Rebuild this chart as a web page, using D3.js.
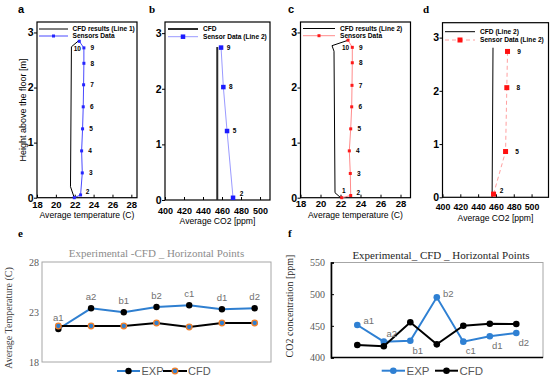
<!DOCTYPE html>
<html>
<head>
<meta charset="utf-8">
<script src="https://cdn.jsdelivr.net/npm/d3@7"></script>
<style>
  body { margin: 0; background: #fff; }
  svg { display: block; font-family: "Liberation Sans", Arial, sans-serif; }
</style>
</head>
<body>
<svg id="chart" width="550" height="381"></svg>
<script>
// ---- a: temperature profile, line 1
const sensorLabelsA = ["", "2", "3", "4", "5", "6", "7", "8", "9", "10"];
const sensorTempA = [21.95, 22.62, 22.8, 22.73, 22.83, 22.9, 22.94, 22.97, 22.97, 22.48];
const sensorHeightA = [0, 0.05, 0.45, 0.85, 1.25, 1.65, 2.05, 2.44, 2.72, 2.84];
const cfdTempA = [21.95, 21.55, 21.65, 22.48];
const cfdHeightA = [0, 0.2, 2.74, 2.86];

// ---- b: CO2 profile, line 2
const sensorLabelsB = ["2", "5", "8", "9"];
const sensorCo2B = [471.6, 465.3, 461.4, 459];
const sensorHeightB = [0.04, 1.24, 2.03, 2.74];
const cfdCo2B = [455, 455];
const cfdHeightB = [0, 2.75];

// ---- c: temperature profile, line 2
const sensorLabelsC = ["1", "2", "3", "4", "5", "6", "7", "8", "9", "10"];
const sensorTempC = [22.12, 23.02, 22.98, 22.88, 23.02, 23.12, 23.15, 23.18, 23.18, 22.75];
const sensorHeightC = [0, 0.04, 0.44, 0.85, 1.25, 1.65, 2.04, 2.45, 2.73, 2.86];
const cfdTempC = [22.02, 21.45, 21.35, 21.15, 22.78];
const cfdHeightC = [0, 0.09, 2.66, 2.76, 2.86];

// ---- d: CO2 profile, line 2
const sensorLabelsD = ["2", "5", "8", "9"];
const sensorCo2D = [457.3, 470.8, 472.2, 473];
const sensorHeightD = [0.06, 0.86, 2.06, 2.74];
const cfdCo2D = [455.7, 456.7];
const cfdHeightD = [0, 2.81];

// ---- e / f: horizontal points
const pointNames = ["a1", "a2", "b1", "b2", "c1", "d1", "d2"];
const expTempE = [21.3, 23.37, 22.97, 23.5, 23.67, 23.27, 23.37];
const cfdTempE = [21.6, 21.6, 21.6, 21.9, 21.5, 21.9, 21.9];
const expCo2F = [451.3, 425, 426.5, 495, 425, 433.5, 438.7];
const cfdCo2F = [419.7, 417.7, 455.6, 420.8, 450.2, 453.4, 452.9];

const tempTicks = [18, 20, 22, 24, 26, 28];
const co2Ticks = [400, 420, 440, 460, 480, 500];
const heightTicks = [0, 1, 2, 3];

const svg = d3.select("#chart");
const serif = "'Liberation Serif', 'Times New Roman', serif";
const sans = "'Liberation Sans', Arial, sans-serif";

function profilePanel(o) {
  const g = svg.append("g");
  const x = d3.scaleLinear().domain(o.xDomain).range([o.left, o.right]);
  const y = d3.scaleLinear().domain(o.yDomain).range([o.bottom, o.top]);

  g.append("g")
    .attr("transform", `translate(0,${o.bottom})`)
    .call(d3.axisBottom(x).tickValues(o.xTicks).tickFormat(d3.format("d")).tickSize(-3).tickPadding(o.xPad))
    .call(a => a.select(".domain").remove())
    .call(a => a.selectAll("text").attr("font-size", o.xFont).attr("font-weight", "bold").attr("font-family", sans));

  g.append("g")
    .attr("transform", `translate(${o.left},0)`)
    .call(d3.axisLeft(y).tickValues(heightTicks).tickFormat(d3.format("d")).tickSize(3).tickPadding(0.5))
    .call(a => a.select(".domain").remove())
    .call(a => a.selectAll("text").attr("font-size", 10.5).attr("font-weight", "bold").attr("font-family", sans));

  g.append("rect")
    .attr("x", o.left).attr("y", o.top)
    .attr("width", o.right - o.left).attr("height", o.bottom - o.top)
    .attr("fill", "none").attr("stroke", "#000").attr("stroke-width", 1.2);

  const idxCfd = d3.range(o.cfdX.length);
  const idxSen = d3.range(o.senX.length);

  g.append("path")
    .attr("d", d3.line().x(i => x(o.cfdX[i])).y(i => y(o.cfdY[i]))(idxCfd))
    .attr("fill", "none").attr("stroke", o.cfdColor).attr("stroke-width", o.cfdWidth);

  g.append("path")
    .attr("d", d3.line().x(i => x(o.senX[i])).y(i => y(o.senY[i]))(idxSen))
    .attr("fill", "none").attr("stroke", o.senLine).attr("stroke-width", 1)
    .attr("stroke-dasharray", o.dash || null);

  g.selectAll(".mk")
    .data(idxSen)
    .join("rect")
    .attr("x", i => x(o.senX[i]) - o.mk / 2)
    .attr("y", i => y(o.senY[i]) - o.mk / 2)
    .attr("width", o.mk).attr("height", o.mk)
    .attr("fill", o.senMarker);

  g.selectAll(".lbl")
    .data(idxSen.filter(i => o.labels[i] !== ""))
    .join("text")
    .attr("x", i => x(o.senX[i]) + (o.labelShift[o.labels[i]] || [o.labelDx, 0])[0])
    .attr("y", i => y(o.senY[i]) + (o.labelShift[o.labels[i]] || [o.labelDx, 0])[1])
    .attr("dy", "0.35em")
    .attr("text-anchor", "middle")
    .attr("font-size", 6.5).attr("font-weight", "bold")
    .text(i => o.labels[i]);

  // legend
  const L = o.legend;
  g.append("line").attr("x1", L.x0).attr("x2", L.x1).attr("y1", L.y1).attr("y2", L.y1)
    .attr("stroke", o.cfdColor).attr("stroke-width", o.cfdWidth);
  g.append("line").attr("x1", L.x0).attr("x2", L.x1).attr("y1", L.y2).attr("y2", L.y2)
    .attr("stroke", o.senLine).attr("stroke-width", 1).attr("stroke-dasharray", o.dash || null);
  g.append("rect").attr("x", (L.x0 + L.x1) / 2 - o.mk / 2).attr("y", L.y2 - o.mk / 2)
    .attr("width", o.mk).attr("height", o.mk).attr("fill", o.senMarker);
  [[L.cfdText, L.y1], [L.senText, L.y2]].forEach(([t, yy]) => {
    g.append("text").attr("x", L.tx).attr("y", yy).attr("dy", "0.35em")
      .attr("font-size", 6.6).attr("font-weight", "bold").text(t);
  });

  g.append("text")
    .attr("x", (o.left + o.right) / 2).attr("y", o.xTitleY)
    .attr("text-anchor", "middle").attr("font-size", 8.6)
    .text(o.xTitle);

  g.append("text")
    .attr("x", o.letterX).attr("y", 13)
    .attr("font-size", 11).attr("font-weight", "bold")
    .attr("font-family", o.letterSerif ? serif : null)
    .text(o.letter);
}

profilePanel({
  left: 37, right: 137, top: 22, bottom: 197.7,
  xDomain: [18, 28.6], yDomain: [0, 3.19], xTicks: tempTicks, xPad: 3.5, xFont: 9.5,
  senX: sensorTempA, senY: sensorHeightA, labels: sensorLabelsA,
  cfdX: cfdTempA, cfdY: cfdHeightA,
  cfdColor: "#000", cfdWidth: 1, senLine: "#4a4aff", senMarker: "#2525ff", mk: 3,
  labelDx: 8.5, labelShift: { "2": [7, -3], "10": [-2, 7] },
  legend: { x0: 39, x1: 68, tx: 72.5, y1: 29, y2: 36, cfdText: "CFD results (Line 1)", senText: "Sensors Data" },
  xTitle: "Average temperature (C)", xTitleY: 218,
  letter: "a", letterX: 18
});

profilePanel({
  left: 165, right: 270, top: 22, bottom: 200,
  xDomain: [400, 510.5], yDomain: [0, 3.2], xTicks: co2Ticks, xPad: 7.5, xFont: 9,
  senX: sensorCo2B, senY: sensorHeightB, labels: sensorLabelsB,
  cfdX: cfdCo2B, cfdY: cfdHeightB,
  cfdColor: "#2b2b2b", cfdWidth: 2, senLine: "#9a9aff", senMarker: "#1c1cff", mk: 4.5,
  labelDx: 7.5, labelShift: { "2": [8.5, -4.5] },
  legend: { x0: 168, x1: 198, tx: 203, y1: 29, y2: 36.7, cfdText: "CFD", senText: "Sensor Data (Line 2)" },
  xTitle: "Average CO2 [ppm]", xTitleY: 224,
  letter: "b", letterX: 149, letterSerif: true
});

profilePanel({
  left: 300.5, right: 410.5, top: 22, bottom: 197.7,
  xDomain: [18, 29], yDomain: [0, 3.19], xTicks: tempTicks, xPad: 3, xFont: 9.5,
  senX: sensorTempC, senY: sensorHeightC, labels: sensorLabelsC,
  cfdX: cfdTempC, cfdY: cfdHeightC,
  cfdColor: "#000", cfdWidth: 1, senLine: "#ff8c8c", senMarker: "#ff1a1a", mk: 3,
  labelDx: 8.5, labelShift: { "2": [7.5, -3], "10": [-2.5, 7.5], "1": [2, -7] },
  legend: { x0: 303, x1: 335, tx: 340, y1: 28.5, y2: 35.7, cfdText: "CFD results (Line 2)", senText: "Sensors Data" },
  xTitle: "Average temperature (C)", xTitleY: 218,
  letter: "c", letterX: 288
});

profilePanel({
  left: 442.5, right: 548.5, top: 22.7, bottom: 197.3,
  xDomain: [400, 519], yDomain: [0, 3.28], xTicks: co2Ticks, xPad: 6.5, xFont: 8.8,
  senX: sensorCo2D, senY: sensorHeightD, labels: sensorLabelsD,
  cfdX: cfdCo2D, cfdY: cfdHeightD,
  cfdColor: "#000", cfdWidth: 1, senLine: "#ffa0a0", senMarker: "#ff1010", mk: 5, dash: "4,3",
  labelDx: 11.5, labelShift: { "2": [8, -3.3] },
  legend: { x0: 445, x1: 475, tx: 480, y1: 31.7, y2: 40, cfdText: "CFD (Line 2)", senText: "Sensor Data (Line 2)" },
  xTitle: "Average CO2 [ppm]", xTitleY: 221,
  letter: "d", letterX: 423, letterSerif: true
});

// y title of row 1
svg.append("text")
  .attr("transform", "translate(23,110) rotate(-90)")
  .attr("text-anchor", "middle").attr("dy", "0.35em")
  .attr("font-size", 9)
  .text("Height above the floor [m]");

// ---------- e ----------
{
  const left = 42, right = 271, top = 262, bottom = 362;
  const x = d3.scaleBand().domain(pointNames).range([left, right]);
  const cx = d => x(d) + x.bandwidth() / 2;
  const y = d3.scaleLinear().domain([18, 28]).range([bottom, top]);
  const g = svg.append("g");
  const blue = "#2f7fd0", orange = "#f07f2a";

  g.append("rect").attr("x", left).attr("y", top).attr("width", right - left).attr("height", bottom - top)
    .attr("fill", "none").attr("stroke", "#a6a6a6").attr("stroke-width", 1);

  g.append("g").attr("transform", `translate(${left},0)`)
    .call(d3.axisLeft(y).tickValues([18, 23, 28]).tickSize(0).tickPadding(3))
    .call(a => a.select(".domain").remove())
    .call(a => a.selectAll("text").attr("font-size", 10).attr("font-family", serif).attr("fill", "#595959"));

  const line = vals => d3.line().x((d, i) => cx(pointNames[i])).y(d => y(d))(vals);

  g.append("path").attr("d", line(expTempE)).attr("fill", "none").attr("stroke", blue).attr("stroke-width", 2);
  g.selectAll(".ex").data(expTempE).join("circle")
    .attr("cx", (d, i) => cx(pointNames[i])).attr("cy", d => y(d)).attr("r", 3.2).attr("fill", "#000");
  g.append("path").attr("d", line(cfdTempE)).attr("fill", "none").attr("stroke", "#000").attr("stroke-width", 2);
  g.selectAll(".cf").data(cfdTempE).join("circle")
    .attr("cx", (d, i) => cx(pointNames[i])).attr("cy", d => y(d)).attr("r", 2.8)
    .attr("fill", blue).attr("stroke", orange).attr("stroke-width", 1.3);

  g.selectAll(".pl").data(expTempE).join("text")
    .attr("x", (d, i) => cx(pointNames[i])).attr("y", d => y(d) - 8.5)
    .attr("text-anchor", "middle").attr("font-size", 9.5).attr("fill", "#707070")
    .text((d, i) => pointNames[i]);

  g.append("text").attr("x", (left + right) / 2).attr("y", 257)
    .attr("text-anchor", "middle").attr("font-family", serif).attr("font-size", 11).attr("fill", "#8c8c8c")
    .text("Experimental -CFD _ Horizontal Points");

  g.append("text").attr("transform", "translate(8.5,318) rotate(-90)")
    .attr("text-anchor", "middle").attr("dy", "0.35em")
    .attr("font-family", serif).attr("font-size", 10).attr("fill", "#404040")
    .text("Average Temperature (C)");

  // legend
  const ly = 371;
  g.append("line").attr("x1", 117).attr("x2", 140).attr("y1", ly).attr("y2", ly).attr("stroke", blue).attr("stroke-width", 2);
  g.append("circle").attr("cx", 128.5).attr("cy", ly).attr("r", 3.2).attr("fill", "#000");
  g.append("text").attr("x", 141.5).attr("y", ly).attr("dy", "0.35em").attr("font-size", 11).attr("fill", "#595959").text("EXP");
  g.append("line").attr("x1", 163).attr("x2", 187).attr("y1", ly).attr("y2", ly).attr("stroke", "#000").attr("stroke-width", 2);
  g.append("circle").attr("cx", 175).attr("cy", ly).attr("r", 2.8).attr("fill", blue).attr("stroke", orange).attr("stroke-width", 1.3);
  g.append("text").attr("x", 188).attr("y", ly).attr("dy", "0.35em").attr("font-size", 11).attr("fill", "#595959").text("CFD");

  g.append("text").attr("x", 18).attr("y", 237).attr("font-family", serif).attr("font-weight", "bold").attr("font-size", 11).text("e");
}

// ---------- f ----------
{
  const left = 331, right = 543, top = 262.5, bottom = 357.5;
  const x = d3.scalePoint().domain(pointNames).range([357.3, 516.3]);
  const y = d3.scaleLinear().domain([400, 550]).range([bottom, top]);
  const g = svg.append("g");
  const blue = "#2f80d3";
  const labelPos = ["right", "upRight", "belowRight", "right", "belowRight", "belowRight", "belowRight"];
  const offsets = { right: [11.5, -4], upRight: [8, -7.5], belowRight: [7.5, 9.5] };

  g.append("rect").attr("x", left).attr("y", top).attr("width", right - left).attr("height", bottom - top)
    .attr("fill", "none").attr("stroke", "#a6a6a6").attr("stroke-width", 1);

  g.append("g").attr("transform", `translate(${left},0)`)
    .call(d3.axisLeft(y).tickValues([400, 450, 500, 550]).tickSize(-3).tickPadding(6))
    .call(a => a.select(".domain").attr("stroke-width", 1.6))
    .call(a => a.selectAll("text").attr("font-size", 10).attr("font-family", serif).attr("fill", "#595959"));
  g.append("line").attr("x1", left).attr("x2", right).attr("y1", bottom).attr("y2", bottom)
    .attr("stroke", "#000").attr("stroke-width", 1.6);

  const line = vals => d3.line().x((d, i) => x(pointNames[i])).y(d => y(d))(vals);

  g.append("path").attr("d", line(expCo2F)).attr("fill", "none").attr("stroke", blue).attr("stroke-width", 2);
  g.selectAll(".ex").data(expCo2F).join("circle")
    .attr("cx", (d, i) => x(pointNames[i])).attr("cy", d => y(d)).attr("r", 3.3).attr("fill", blue);
  g.append("path").attr("d", line(cfdCo2F)).attr("fill", "none").attr("stroke", "#000").attr("stroke-width", 2);
  g.selectAll(".cf").data(cfdCo2F).join("circle")
    .attr("cx", (d, i) => x(pointNames[i])).attr("cy", d => y(d)).attr("r", 3.3).attr("fill", "#000");

  g.selectAll(".pl").data(expCo2F).join("text")
    .attr("x", (d, i) => x(pointNames[i]) + offsets[labelPos[i]][0])
    .attr("y", (d, i) => y(d) + offsets[labelPos[i]][1])
    .attr("dy", "0.35em")
    .attr("text-anchor", "middle").attr("font-size", 9.5).attr("fill", "#707070")
    .text((d, i) => pointNames[i]);

  g.append("text").attr("x", 441).attr("y", 258.5)
    .attr("text-anchor", "middle").attr("font-family", serif).attr("font-size", 11).attr("fill", "#262626")
    .text("Experimental_ CFD _ Horizontal Points");

  g.append("text").attr("transform", "translate(289,306) rotate(-90)")
    .attr("text-anchor", "middle").attr("dy", "0.35em")
    .attr("font-family", serif).attr("font-size", 10).attr("fill", "#262626")
    .text("CO2 concentration [ppm]");

  const ly = 370.7;
  g.append("line").attr("x1", 381.7).attr("x2", 405).attr("y1", ly).attr("y2", ly).attr("stroke", blue).attr("stroke-width", 2);
  g.append("circle").attr("cx", 393.3).attr("cy", ly).attr("r", 3.3).attr("fill", blue);
  g.append("text").attr("x", 406.5).attr("y", ly).attr("dy", "0.35em").attr("font-size", 11.5).attr("fill", "#595959").text("EXP");
  g.append("line").attr("x1", 435).attr("x2", 458).attr("y1", ly).attr("y2", ly).attr("stroke", "#000").attr("stroke-width", 2);
  g.append("circle").attr("cx", 446.5).attr("cy", ly).attr("r", 3.3).attr("fill", "#000");
  g.append("text").attr("x", 459.5).attr("y", ly).attr("dy", "0.35em").attr("font-size", 11.5).attr("fill", "#595959").text("CFD");

  g.append("text").attr("x", 288).attr("y", 237).attr("font-family", serif).attr("font-weight", "bold").attr("font-size", 11).text("f");
}
</script>
</body>
</html>
